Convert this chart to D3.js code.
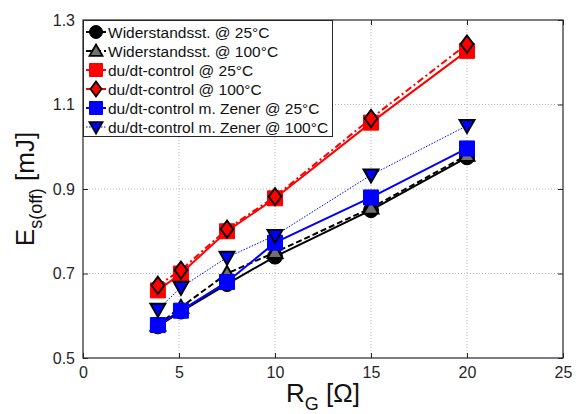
<!DOCTYPE html>
<html><head><meta charset="utf-8">
<script src="https://cdn.jsdelivr.net/npm/d3@7"></script>
<style>body{margin:0;background:#fff}svg{display:block}text{font-family:"Liberation Sans",Arial,sans-serif}</style>
</head><body>
<svg id="c" width="580" height="414"></svg>
<script>
const xValues = [3.9, 5.1, 7.5, 10, 15, 20];
const widerstand25 = [0.575, 0.61, 0.675, 0.74, 0.85, 0.975];
const widerstand100 = [0.578, 0.62, 0.70, 0.75, 0.855, 0.98];
const dudt25 = [0.66, 0.70, 0.80, 0.878, 1.057, 1.227];
const dudt100 = [0.672, 0.708, 0.805, 0.882, 1.067, 1.243];
const zener25 = [0.578, 0.612, 0.68, 0.773, 0.88, 0.996];
const zener100 = [0.615, 0.667, 0.738, 0.79, 0.933, 1.05];
const seriesNames = ["Widerstandsst. @ 25°C","Widerstandsst. @ 100°C","du/dt-control @ 25°C","du/dt-control @ 100°C","du/dt-control m. Zener @ 25°C","du/dt-control m. Zener @ 100°C"];
const xTicks = [0, 5, 10, 15, 20, 25];
const yTicks = [0.5, 0.7, 0.9, 1.1, 1.3];

const styles = [
  {values: widerstand25, color:"#000", width:2, dash:null, marker:"circle", fill:"#000", stroke:"#000"},
  {values: widerstand100, color:"#000", width:2, dash:"6,3", marker:"triUp", fill:"#707070", stroke:"#000"},
  {values: dudt25, color:"#ff0000", width:2, dash:null, marker:"square", fill:"#ff0000", stroke:"#ff0000"},
  {values: dudt100, color:"#ff0000", width:2, dash:"7,3,2,3", marker:"diamond", fill:"#ff0000", stroke:"#000"},
  {values: zener25, color:"#0000ff", width:2, dash:null, marker:"square", fill:"#0000ff", stroke:"#0000ff"},
  {values: zener100, color:"#0000ff", width:1, dash:"1.5,1.5", marker:"triDown", fill:"#0000ff", stroke:"#000"}
];

const svg = d3.select("#c");
const L=83, R=563, T=20, B=358;
const x = d3.scaleLinear().domain([0,25]).range([L,R]);
const y = d3.scaleLinear().domain([0.5,1.3]).range([B,T]);

// grid
const g = svg.append("g");
g.selectAll(".gx").data(xTicks.filter(t=>t>0&&t<25)).join("line")
  .attr("x1",d=>x(d)).attr("x2",d=>x(d)).attr("y1",T).attr("y2",B)
  .attr("stroke","#b8b8b8").attr("stroke-width",1).attr("stroke-dasharray","1,2");
g.selectAll(".gy").data(yTicks.filter(t=>t>0.5&&t<1.3)).join("line")
  .attr("x1",L).attr("x2",R).attr("y1",d=>y(d)).attr("y2",d=>y(d))
  .attr("stroke","#b8b8b8").attr("stroke-width",1).attr("stroke-dasharray","1,2");

function markerPath(type, s){
  const h=s/2;
  if(type==="circle") return d3.symbol(d3.symbolCircle, Math.PI*h*h)();
  if(type==="square") return `M${-h},${-h}H${h}V${h}H${-h}Z`;
  if(type==="diamond") return `M0,${-h*1.15}L${h*0.85},0L0,${h*1.15}L${-h*0.85},0Z`;
  if(type==="triUp") return `M0,${-h}L${h},${h*0.75}L${-h},${h*0.75}Z`;
  if(type==="triDown") return `M0,${h}L${h},${-h*0.75}L${-h},${-h*0.75}Z`;
}

const line = d3.line().x(d=>x(d[0])).y(d=>y(d[1]));
styles.forEach(st=>{
  const pts = xValues.map((xv,i)=>[xv, st.values[i]]);
  svg.append("path").attr("d",line(pts)).attr("fill","none")
    .attr("stroke",st.color).attr("stroke-width",st.width)
    .attr("stroke-dasharray",st.dash);
  svg.append("g").selectAll("path").data(pts).join("path")
    .attr("transform",d=>`translate(${x(d[0])},${y(d[1])})`)
    .attr("d",markerPath(st.marker,15))
    .attr("fill",st.fill).attr("stroke",st.stroke).attr("stroke-width",st.stroke===st.fill?1:1.9);
});

// axes frame
const ax = svg.append("g");
ax.append("rect").attr("x",L).attr("y",T).attr("width",R-L).attr("height",B-T)
  .attr("fill","none").attr("stroke","#262626").attr("stroke-width",1.2);
const xb = d3.axisBottom(x).tickValues(xTicks).tickSize(-5).tickPadding(9).tickFormat(d3.format("d"));
const xt = d3.axisTop(x).tickValues(xTicks).tickSize(-5).tickFormat("");
const yl = d3.axisLeft(y).tickValues(yTicks).tickSize(-5).tickPadding(8).tickFormat(d3.format(".1f"));
const yr = d3.axisRight(y).tickValues(yTicks).tickSize(-5).tickFormat("");
[[xb,`translate(0,${B})`],[xt,`translate(0,${T})`],[yl,`translate(${L},0)`],[yr,`translate(${R},0)`]].forEach(([a,t])=>{
  const gg = ax.append("g").attr("transform",t).call(a);
  gg.select(".domain").remove();
  gg.selectAll("line").attr("stroke","#262626");
  gg.selectAll("text").attr("font-size",16).attr("fill","#262626").attr("font-family","Liberation Sans, Arial, sans-serif");
});

// axis labels
const xlab = svg.append("text").attr("x",(L+R)/2).attr("y",402).attr("text-anchor","middle")
  .attr("font-size",26).attr("fill","#111");
xlab.append("tspan").text("R");
xlab.append("tspan").attr("font-size",18).attr("dy",8).text("G");
xlab.append("tspan").attr("dy",-8).text(" [Ω]");

const ylab = svg.append("text").attr("transform",`translate(34,${(T+B)/2}) rotate(-90)`)
  .attr("text-anchor","middle").attr("font-size",26).attr("fill","#111");
ylab.append("tspan").text("E");
ylab.append("tspan").attr("font-size",18).attr("dy",8).text("s(off)");
ylab.append("tspan").attr("dy",-8).text(" [mJ]");

// legend
const lg = svg.append("g");
lg.append("rect").attr("x",L+0.5).attr("y",T+0.5).attr("width",249).attr("height",116)
  .attr("fill","#fff").attr("stroke","#262626").attr("stroke-width",1);
styles.forEach((st,i)=>{
  const cy = 32 + i*19;
  lg.append("line").attr("x1",86).attr("x2",106).attr("y1",cy).attr("y2",cy)
    .attr("stroke",st.color).attr("stroke-width",st.width).attr("stroke-dasharray",st.dash);
  lg.append("path").attr("transform",`translate(96,${cy})`).attr("d",markerPath(st.marker,13))
    .attr("fill",st.fill).attr("stroke",st.stroke).attr("stroke-width",st.stroke===st.fill?1:1.8);
  lg.append("text").attr("x",108).attr("y",cy+5.5).attr("font-size",15.5).attr("fill","#111").text(seriesNames[i]);
});
</script>
</body></html>
